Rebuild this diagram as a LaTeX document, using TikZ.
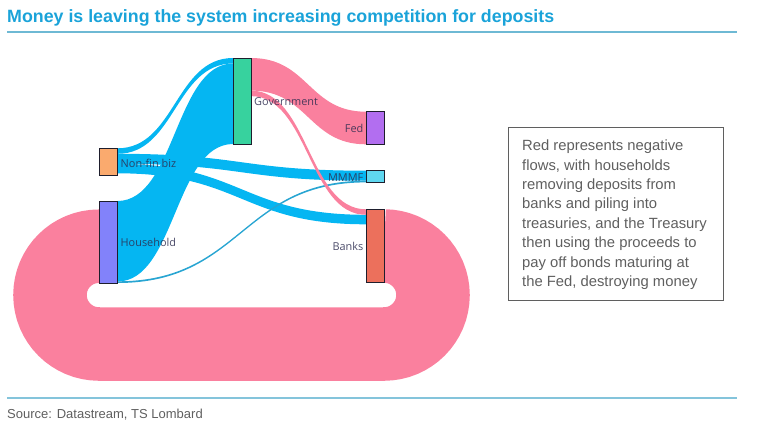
\documentclass[tikz,border=0pt]{standalone}
\usepackage{fontspec}
\setmainfont{Liberation Sans}
\newfontfamily\labfont{Open Sans}
\usetikzlibrary{calc}
\pgfdeclarelayer{bg}
\pgfsetlayers{bg,main}
\definecolor{pinkflow}{RGB}{250,128,158}
\definecolor{blueflow}{RGB}{5,182,242}
\definecolor{thinflow}{RGB}{40,165,210}
\definecolor{titleblue}{RGB}{26,163,217}
\definecolor{ruleblue}{RGB}{110,185,212}
\definecolor{govc}{RGB}{55,210,158}
\definecolor{fedc}{RGB}{178,110,240}
\definecolor{nfc}{RGB}{250,170,110}
\definecolor{mmc}{RGB}{95,215,240}
\definecolor{hhc}{RGB}{130,130,250}
\definecolor{bkc}{RGB}{236,112,92}
\definecolor{labc}{RGB}{45,45,80}
\definecolor{noteg}{RGB}{95,95,95}
\definecolor{edgec}{RGB}{30,30,45}
\newcommand\ribbon[6]{%
  \coordinate (rA) at ([yshift={-(#2)*1pt}]#1.north east);
  \coordinate (rA2) at ([yshift={-(#2+#5)*1pt}]#1.north east);
  \coordinate (rB) at ([yshift={-(#4)*1pt}]#3.north west);
  \coordinate (rB2) at ([yshift={-(#4+#5)*1pt}]#3.north west);
  \coordinate (rM) at ($(rA)!0.5!(rB)$);
  \fill[#6] (rA) .. controls (rM |- rA) and (rM |- rB) .. (rB) -- (rB2)
     .. controls (rM |- rB2) and (rM |- rA2) .. (rA2) -- cycle;
}
\tikzset{
  sknode/.style={draw=edgec, line width=0.9pt, inner sep=0pt, outer sep=0pt,
     minimum width=18pt, anchor=north west},
  lab/.style={font=\labfont\fontsize{10.9}{13}\selectfont, text=labc,
     text opacity=0.85, inner sep=0pt},
  notetext/.style={anchor=base west, inner sep=0pt, text=noteg,
     font=\fontsize{14.8}{18}\selectfont},
}
\begin{document}
\begin{tikzpicture}[x=1pt,y=-1pt]
\useasboundingbox (0,0) rectangle (780,437);
% title
\node[anchor=base west, inner sep=0pt, font=\bfseries\fontsize{17.8}{22}\selectfont,
  text=titleblue] (title) at (7,22.7) {Money is leaving the system increasing competition for deposits};
\draw[ruleblue, line width=2.5pt] (7,32) -- (737,32);
% nodes
\node[sknode, fill=govc, minimum height=86pt] (gov) at (233,58) {};
\node[sknode, fill=fedc, minimum height=32.6pt] (fed) at (366,111.7) {};
\node[sknode, fill=nfc, minimum height=26.7pt] (nf) at (99.5,148.3) {};
\node[sknode, fill=mmc, minimum height=12pt] (mm) at (366,170.7) {};
\node[sknode, fill=hhc, minimum height=82pt] (hh) at (99.5,201) {};
\node[sknode, fill=bkc, minimum height=73.4pt] (bk) at (366,209.3) {};
% flows
\begin{pgfonlayer}{bg}
  \coordinate (loopS) at (bk.east);
  \coordinate (loopE) at ([yshift=36.75pt]hh.south west);
  \draw[pinkflow, line width=73.5pt, rounded corners=49pt]
    (loopS) -- ++(49,0) -- ++(0,98) -- ++(-383,0) -- ++(0,-98) -- (loopE);
  \ribbon{nf}{0}{gov}{0}{5.5}{blueflow}
  \ribbon{hh}{0}{gov}{5.5}{80.5}{blueflow}
  \ribbon{nf}{5.5}{mm}{0}{10}{blueflow}
  \ribbon{nf}{15.5}{bk}{5.5}{9.5}{blueflow}
  \ribbon{hh}{80.3}{mm}{10}{1.7}{thinflow}
  \ribbon{gov}{0}{fed}{0}{32.6}{pinkflow}
  \ribbon{gov}{32.6}{bk}{0}{5.5}{pinkflow}
\end{pgfonlayer}
% labels
\node[lab, anchor=west] (lgov) at (254,102) {Government};
\node[lab, anchor=east] (lfed) at (363.5,128.5) {Fed};
\node[lab, anchor=west] (lnf) at (120.5,163) {Non-fin biz};
\node[lab, anchor=east] (lmm) at (363.5,177.5) {MMMF};
\node[lab, anchor=west] (lhh) at (120.5,242.5) {Household};
\node[lab, anchor=east] (lbk) at (363.5,246.5) {Banks};
% note box
\node[draw=noteg, line width=1.1pt, minimum width=215pt, minimum height=173pt,
  anchor=north west, inner sep=0pt] (notebox) at (508,127) {};
\foreach \t [count=\i] in {{Red represents negative},{flows, with households},
  {removing deposits from},{banks and piling into},{treasuries, and the Treasury},
  {then using the proceeds to},{pay off bonds maturing at},{the Fed, destroying money}}
  \node[notetext] (note\i) at (522,{150.7+(\i-1)*19.43}) {\t};
% footer
\draw[ruleblue!85, line width=1.3pt] (7,398) -- (737,398);
\node[anchor=base west, inner sep=0pt, text=noteg, font=\fontsize{13}{15}\selectfont]
  (src) at (7,418.5) {Source: Datastream, TS Lombard};
\end{tikzpicture}
\end{document}
